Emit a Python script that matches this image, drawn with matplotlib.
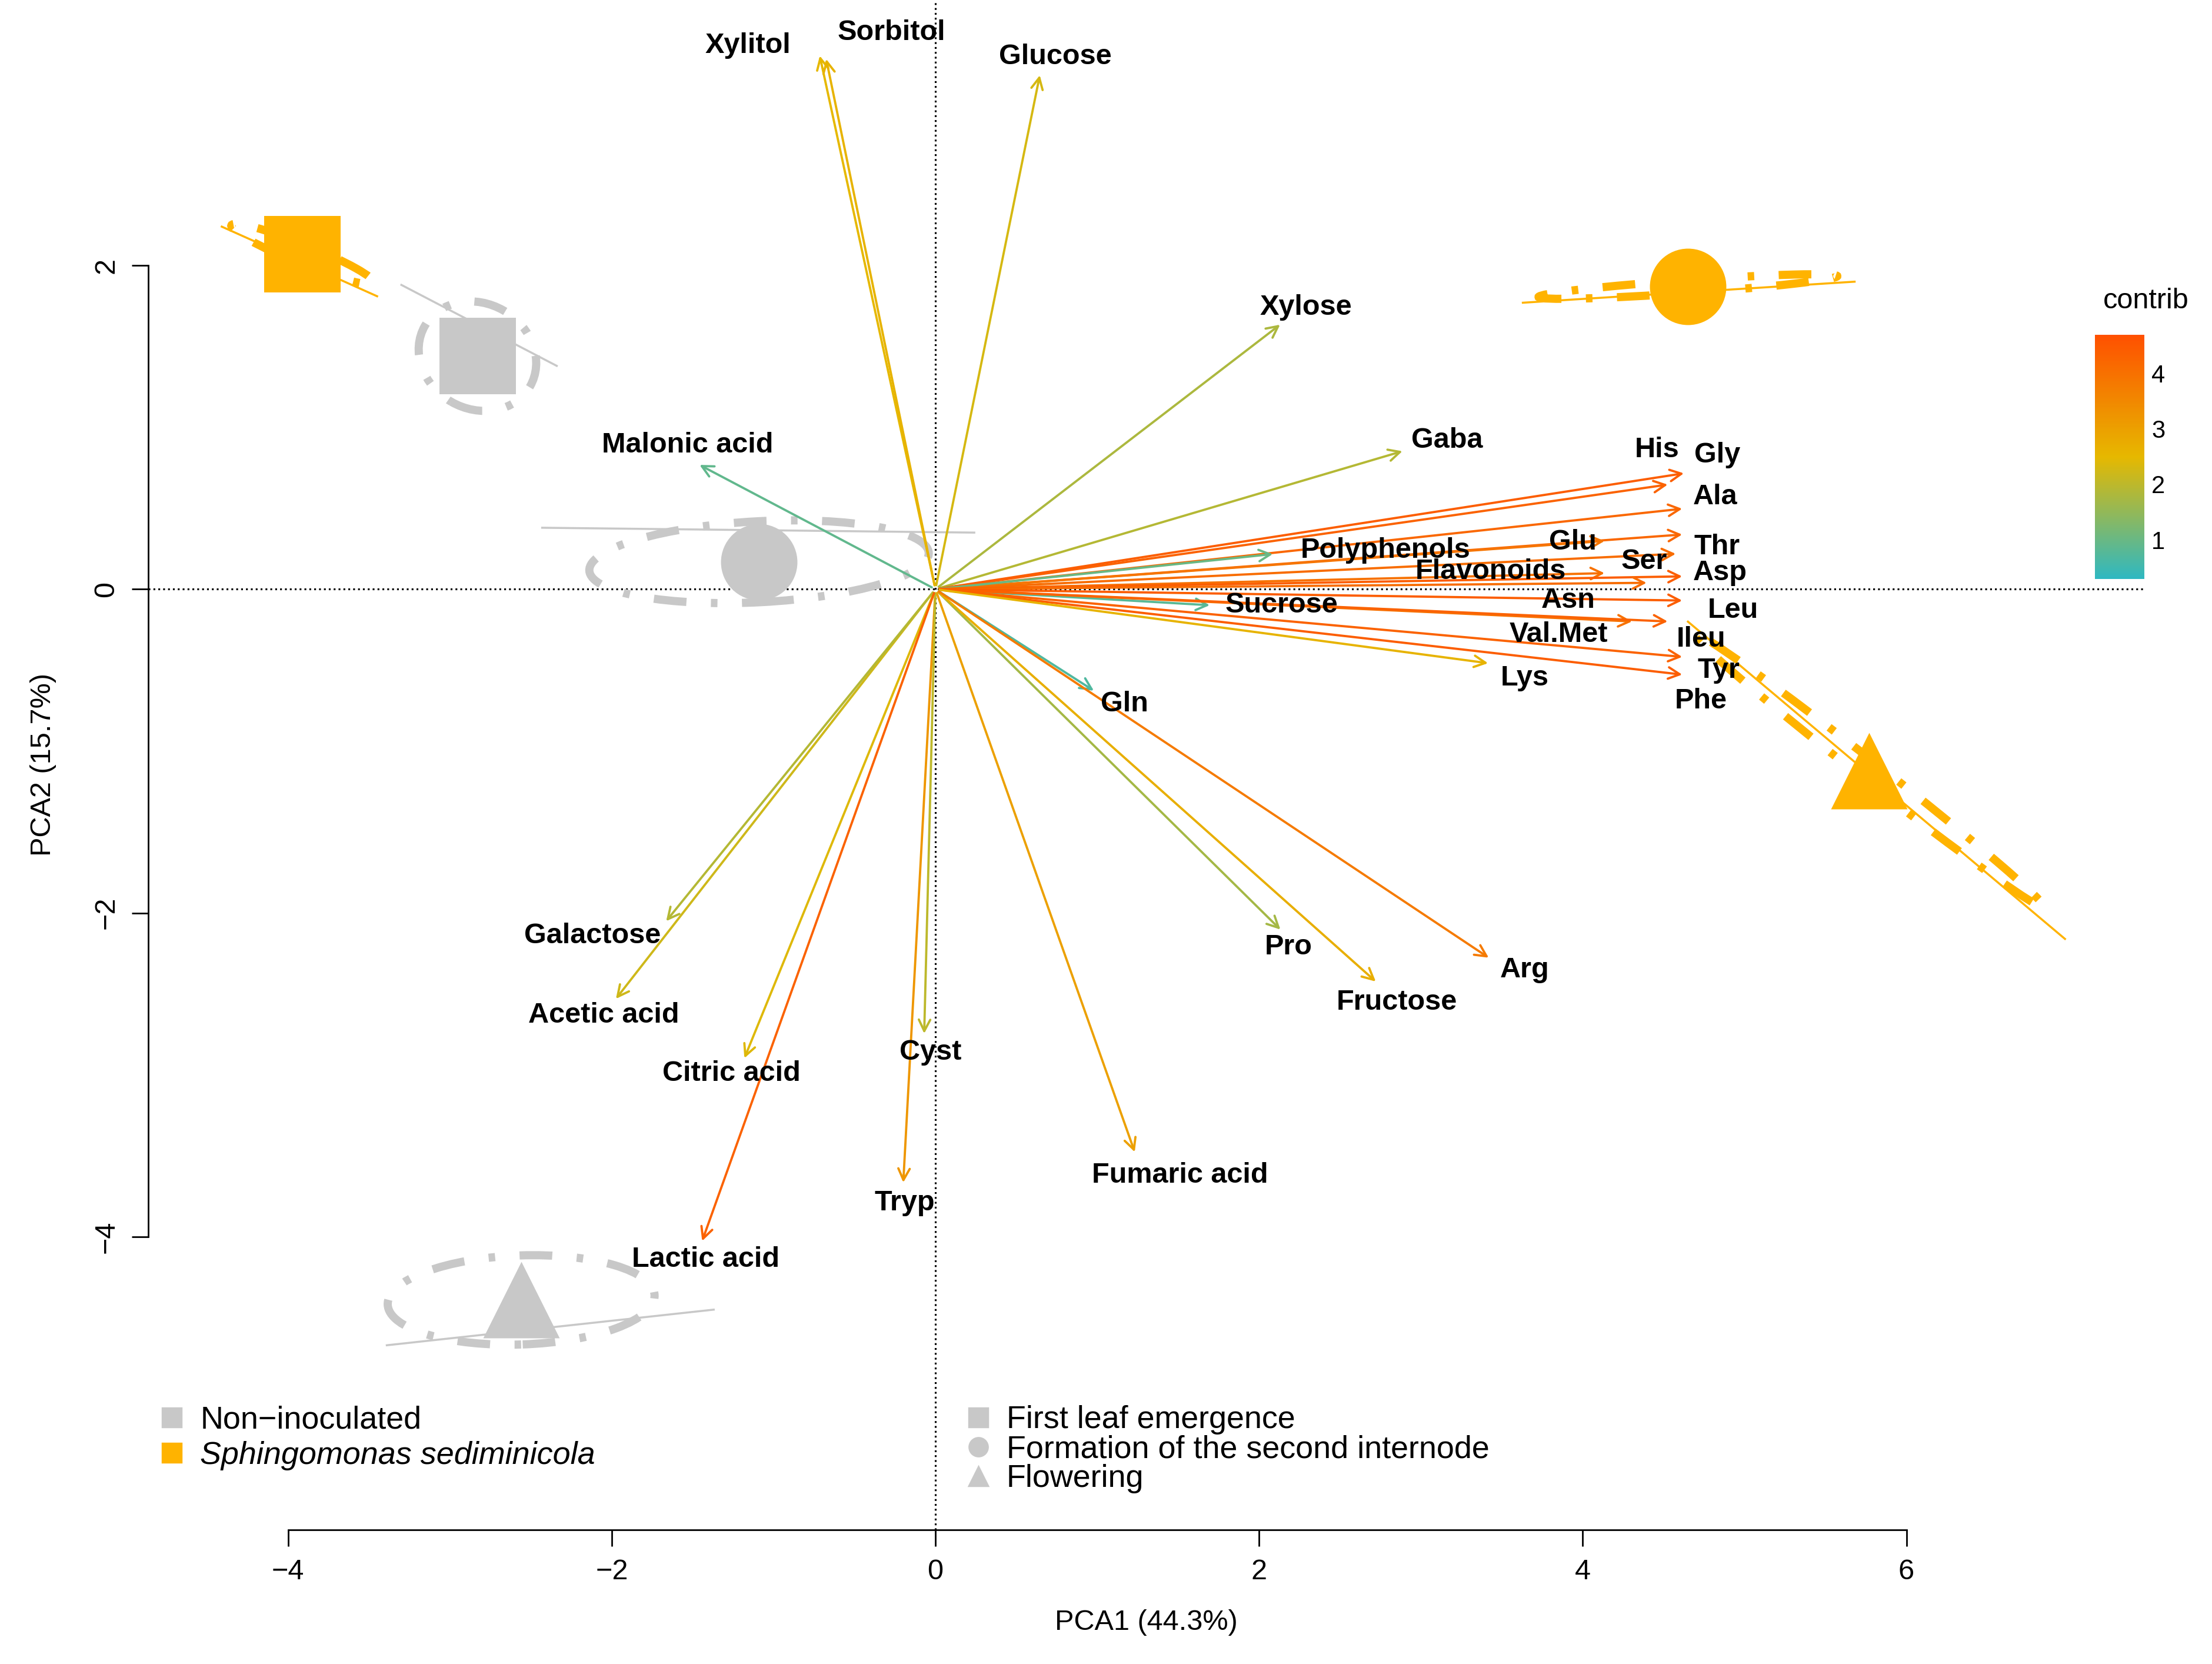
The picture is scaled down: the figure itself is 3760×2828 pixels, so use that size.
import matplotlib
matplotlib.use("Agg")
import matplotlib.pyplot as plt
from matplotlib.patches import Ellipse
from matplotlib.colors import LinearSegmentedColormap, Normalize
from matplotlib.lines import Line2D

plt.rcParams["font.family"] = ["Liberation Sans", "DejaVu Sans"]

# variables: name, arrow tip, label position, contribution
names = ["Xylitol", "Sorbitol", "Glucose", "Xylose", "Gaba", "Malonic acid", "His", "Gly", "Ala",
         "Thr", "Glu", "Polyphenols", "Flavonoids", "Ser", "Asp", "Sucrose", "Asn", "Leu", "Val.Met",
         "Ileu", "Tyr", "Phe", "Lys", "Gln", "Pro", "Fructose", "Arg", "Fumaric acid", "Tryp", "Cyst",
         "Citric acid", "Acetic acid", "Galactose", "Lactic acid"]
pc1 = [-0.72, -0.68, 0.65, 2.15, 2.91, -1.48, 4.55, 4.65, 4.64, 4.64, 4.16, 2.11, 4.16, 4.60, 4.64,
       1.72, 4.42, 4.64, 4.33, 4.55, 4.64, 4.64, 3.44, 1.00, 2.15, 2.74, 3.44, 1.24, -0.20, -0.07,
       -1.19, -1.99, -1.68, -1.45]
pc2 = [3.32, 3.30, 3.20, 1.65, 0.86, 0.78, 0.65, 0.72, 0.50, 0.34, 0.30, 0.22, 0.10, 0.22, 0.08,
       -0.10, 0.04, -0.07, -0.20, -0.20, -0.42, -0.53, -0.46, -0.64, -2.12, -2.44, -2.29, -3.50,
       -3.69, -2.77, -2.92, -2.55, -2.07, -4.05]
lab_x = [-1.16, -0.27, 0.74, 2.29, 3.16, -1.53, 4.46, 4.83, 4.82, 4.83, 3.94, 2.78, 3.43, 4.38, 4.85,
         2.14, 3.91, 4.93, 3.85, 4.73, 4.84, 4.73, 3.64, 1.17, 2.18, 2.85, 3.64, 1.51, -0.19, -0.03,
         -1.26, -2.05, -2.12, -1.42]
lab_y = [3.36, 3.44, 3.29, 1.74, 0.92, 0.89, 0.86, 0.83, 0.57, 0.26, 0.29, 0.24, 0.11, 0.17, 0.10,
         -0.10, -0.07, -0.13, -0.28, -0.31, -0.50, -0.69, -0.55, -0.71, -2.21, -2.55, -2.35, -3.62,
         -3.79, -2.86, -2.99, -2.63, -2.14, -4.14]
contrib = [2.5, 2.6, 2.3, 1.8, 1.9, 0.9, 4.3, 4.4, 4.2, 4.2, 3.9, 1.0, 4.0, 4.1, 4.4, 0.8, 4.1, 4.4,
           4.0, 4.3, 4.3, 4.4, 2.6, 0.7, 1.7, 2.7, 3.8, 3.0, 3.2, 2.0, 2.4, 2.2, 1.9, 4.3]

# groups: centroid, ellipse (width, height, angle), spread line ends
grp_x = [-2.83, -1.09, -2.56, -3.91, 4.65, 5.77]
grp_y = [1.44, 0.17, -4.39, 2.07, 1.87, -1.12]
grp_col = ["#C8C8C8", "#C8C8C8", "#C8C8C8", "#FFB300", "#FFB300", "#FFB300"]
grp_mark = ["s", "o", "^", "s", "o", "^"]
ell_w = [0.75, 2.10, 1.65, 0.95, 1.85, 2.75]
ell_h = [0.65, 0.50, 0.55, 0.12, 0.08, 0.12]
ell_a = [-30, 3, 2, -22, 4, -38]
line_x0 = [-3.30, -2.43, -3.39, -4.41, 3.63, 4.65]
line_y0 = [1.88, 0.38, -4.67, 2.24, 1.77, -0.20]
line_x1 = [-2.34, 0.24, -1.37, -3.45, 5.68, 6.98]
line_y1 = [1.38, 0.35, -4.45, 1.81, 1.90, -2.16]

cmap = LinearSegmentedColormap.from_list("contrib", ["#2EB8C2", "#E6B800", "#FF5000"])
norm = Normalize(0.29, 4.69)

fig = plt.figure(figsize=(15.04, 11.312), dpi=250)
ax = fig.add_axes([105 / 1568, 1 - 1083 / 1178, 1415 / 1568, 1083 / 1178])
ax.set_xlim(-4.865, 7.47)
ax.set_ylim(-5.81, 3.64)

ax.axhline(0, color="black", ls=":", lw=0.9, zorder=1)
ax.axvline(0, color="black", ls=":", lw=0.9, zorder=1)

for i in range(6):
    ax.plot([line_x0[i], line_x1[i]], [line_y0[i], line_y1[i]], color=grp_col[i], lw=1.0, zorder=2)
    e = Ellipse((grp_x[i], grp_y[i]), ell_w[i], ell_h[i], angle=ell_a[i], fill=False,
                ec=grp_col[i], lw=4, ls=(0, (4, 3, 0.8, 3)), zorder=2)
    ax.add_patch(e)
    ax.scatter(grp_x[i], grp_y[i], s=1400, marker=grp_mark[i], color=grp_col[i], zorder=3, lw=0)

for i, n in enumerate(names):
    c = cmap(norm(contrib[i]))
    ax.annotate("", xy=(pc1[i], pc2[i]), xytext=(0, 0),
                arrowprops=dict(arrowstyle="->", color=c, lw=1.1, mutation_scale=14), zorder=4)
    ax.text(lab_x[i], lab_y[i], n, fontsize=14, fontweight="bold", ha="center", va="center", zorder=5)

for s in ["top", "right"]:
    ax.spines[s].set_visible(False)
ax.spines["left"].set_bounds(-4, 2)
ax.spines["bottom"].set_bounds(-4, 6)
ax.set_xticks([-4, -2, 0, 2, 4, 6])
ax.set_yticks([-4, -2, 0, 2])
ax.set_xticklabels(["\u22124", "\u22122", "0", "2", "4", "6"])
ax.set_yticklabels(["\u22124", "\u22122", "0", "2"], rotation=90, va="center")
ax.tick_params(labelsize=14, length=8, pad=6)
ax.set_xlabel("PCA1 (44.3%)", fontsize=14, labelpad=12)
ax.set_ylabel("PCA2 (15.7%)", fontsize=14, labelpad=18)

h1 = [Line2D([], [], marker="s", ls="", color="#C8C8C8", ms=9),
      Line2D([], [], marker="s", ls="", color="#FFB300", ms=9)]
l1 = ax.legend(h1, ["Non\u2212inoculated", "Sphingomonas sediminicola"], loc="upper left",
               bbox_to_anchor=(-0.012, 0.1), frameon=False, fontsize=15.5, handletextpad=0.3,
               labelspacing=0.2, handlelength=1.2)
l1.get_texts()[1].set_style("italic")
ax.add_artist(l1)
h2 = [Line2D([], [], marker=m, ls="", color="#C8C8C8", ms=9) for m in ["s", "o", "^"]]
ax.legend(h2, ["First leaf emergence", "Formation of the second internode", "Flowering"],
          loc="upper left", bbox_to_anchor=(0.392, 0.1), frameon=False, fontsize=15.5,
          handletextpad=0.3, labelspacing=0.0, handlelength=1.2)

cax = fig.add_axes([1485 / 1568, 1 - 410 / 1178, 35 / 1568, 173 / 1178])
cb = fig.colorbar(plt.cm.ScalarMappable(norm=norm, cmap=cmap), cax=cax, ticks=[1, 2, 3, 4])
cb.outline.set_visible(False)
cb.ax.tick_params(labelsize=12, length=0)
fig.text(1521 / 1568, 1 - 213 / 1178, "contrib", fontsize=14, ha="center", va="center")

fig.savefig("out.png", dpi=250)
